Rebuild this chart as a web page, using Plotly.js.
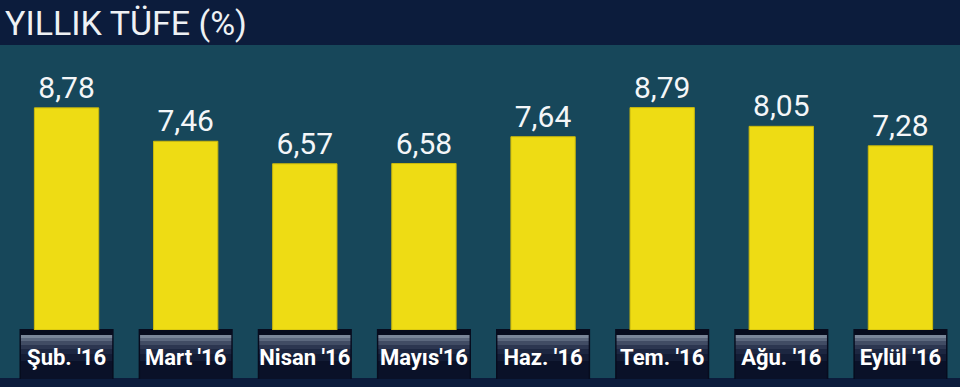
<!DOCTYPE html>
<html>
<head>
<meta charset="utf-8">
<script src="https://cdn.plot.ly/plotly-3.0.1.min.js"></script>
<style>
html,body{margin:0;padding:0;background:#0c1c3c;}
#chart{width:960px;height:387px;}
</style>
</head>
<body>
<div id="chart"></div>
<script>
const categories = ["Şub. '16", "Mart '16", "Nisan '16", "Mayıs'16", "Haz. '16", "Tem. '16", "Ağu. '16", "Eylül '16"];
const values = [8.78, 7.46, 6.57, 6.58, 7.64, 8.79, 8.05, 7.28];
const titleText = "YILLIK TÜFE (%)";

const W = 960, H = 387, mT = 45, mB = 57, mL = 7, mR = 0;
const plotH = H - mT - mB;
const py = p => (H - mB - p) / plotH;   // pixel y -> paper y

const shapes = [];
// teal panel behind bars and label boxes
shapes.push({type:'rect', xref:'paper', yref:'paper', x0:-mL/(W-mL-mR), x1:1, y0:py(378), y1:1,
  fillcolor:'#17475a', line:{width:0}, layer:'below'});
// label boxes
categories.forEach((c, i) => {
  const x0 = i - 0.395, x1 = i + 0.395;
  shapes.push({type:'rect', xref:'x', yref:'paper', x0, x1, y0:py(379), y1:py(329),
    fillcolor:'#070c1e', line:{width:0}, layer:'below'});
  const stops = [[335,338,'#7a8699'],[338,341,'#5c687e'],[341,345,'#414c64'],[345,349,'#2c3650'],[349,354,'#1d2741'],[354,361,'#131c35'],[361,379,'#0a1128']];
  stops.forEach(s => shapes.push({type:'rect', xref:'x', yref:'paper', x0:x0+0.012, x1:x1-0.012, y0:py(s[1]), y1:py(s[0]),
    fillcolor:s[2], line:{width:0}, layer:'below'}));
});

const data = [{
  type:'bar', x:categories, y:values,
  marker:{color:'#eedc14', line:{color:'#cbb90c', width:1}},
  texttemplate:'%{y:.2f}', textposition:'outside', cliponaxis:false,
  textfont:{family:'Roboto, sans-serif', size:30, color:'#f4f6f8'},
  hoverinfo:'skip'
}];

const layout = {
  width:W, height:H, margin:{l:mL, r:mR, t:mT, b:mB},
  paper_bgcolor:'#0c1c3c', plot_bgcolor:'rgba(0,0,0,0)',
  separators:',.',
  bargap:0.46,
  showlegend:false,
  xaxis:{type:'category', showgrid:false, zeroline:false, showline:false, ticks:'',
    tickfont:{family:'Roboto, sans-serif', size:22, color:'#ffffff', weight:'bold'},
    ticklabelstandoff:12, fixedrange:true},
  yaxis:{range:[0, plotH/25.3], visible:false, fixedrange:true},
  shapes:shapes,
  annotations:[{text:titleText, xref:'paper', yref:'paper', x:-mL/(W-mL-mR)+0.003, xanchor:'left',
    y:1+ (mT-23)/plotH, yanchor:'middle', showarrow:false,
    font:{family:'Roboto, sans-serif', size:34, color:'#eef1f4'}}]
};

Plotly.newPlot('chart', data, layout, {displayModeBar:false, staticPlot:true});
</script>
</body>
</html>
